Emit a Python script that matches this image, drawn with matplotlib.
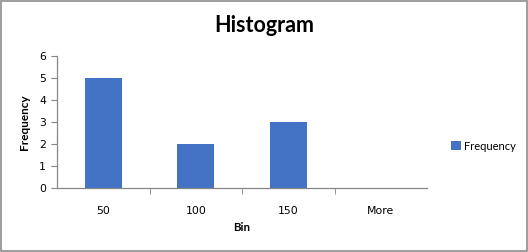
import matplotlib
matplotlib.use("Agg")
import matplotlib.pyplot as plt
from matplotlib.patches import Rectangle

bins = ["50", "100", "150", "More"]
freq = [5, 2, 3, 0]
yticks = [0, 1, 2, 3, 4, 5, 6]

BLUE = "#4472C4"
GRAY = "#868686"
plt.rcParams.update({"font.family": ["DejaVu Sans"], "font.size": 7.5})

fig = plt.figure(figsize=(5.28, 2.52), dpi=100)
fig.patches.append(Rectangle((0.001, 0.002), 0.997, 0.995, transform=fig.transFigure,
                             fill=False, edgecolor="#8c8c8c", linewidth=1.2))
ax = fig.add_axes([0.108, 0.254, 0.701, 0.524])

x = list(range(len(bins)))
bars = ax.bar(x, freq, width=0.4, color=BLUE, label="Frequency")
ax.set_xlim(-0.5, len(bins) - 0.5)
ax.set_ylim(0, 6)
ax.set_yticks(yticks)
ax.set_xticks(x)
ax.set_xticklabels(bins)
ax.set_xticks([i + 0.5 for i in x[:-1]], minor=True)
ax.tick_params(axis="x", which="major", length=0, pad=13, labelsize=7.8)
ax.tick_params(axis="x", which="minor", length=4, color=GRAY, direction="out")
ax.tick_params(axis="y", length=4, color=GRAY, pad=4, labelsize=7.8)
for s in ["top", "right"]:
    ax.spines[s].set_visible(False)
for s in ["left", "bottom"]:
    ax.spines[s].set_color(GRAY)
    ax.spines[s].set_linewidth(0.9)

fig.text(0.5, 0.9, "Histogram", ha="center", va="center", fontsize=15.5,
         fontweight="bold", family=["Lato", "DejaVu Sans"])
fig.text(0.458, 0.098, "Bin", ha="center", va="center", fontsize=8.3, fontweight="bold",
         family=["Lato", "DejaVu Sans"])
fig.text(0.047, 0.515, "Frequency", ha="center", va="center", rotation=90, fontsize=8.5,
         fontweight="bold", family=["Lato", "DejaVu Sans"])

fig.legend(handles=[bars], labels=["Frequency"], loc="center left",
           bbox_to_anchor=(0.835, 0.42), frameon=False, handlelength=0.9,
           handleheight=0.9, handletextpad=0.3, prop={"family": ["Lato", "DejaVu Sans"], "size": 8})

fig.savefig("out.png", dpi=100)
